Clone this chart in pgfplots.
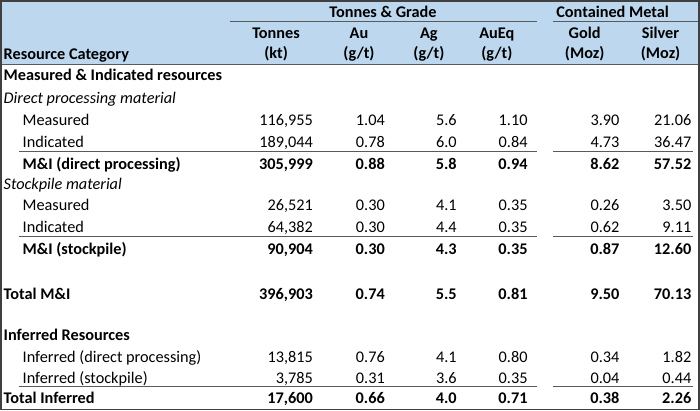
\documentclass[border=0pt]{standalone}
\usepackage{pgfplots}
\pgfplotsset{compat=1.18}
\usepackage{pgfplotstable}
\usepackage{fontspec}
\setmainfont{Carlito}
\definecolor{hdr}{RGB}{189,215,238}
\definecolor{bord}{RGB}{64,64,64}
\definecolor{rule}{RGB}{90,90,90}
\newcommand{\tf}{\fontsize{16.3}{18}\selectfont}

\pgfplotstableread{
y tonnes au ag aueq gold silver
125.5 116,955 1.04 5.6 1.10 3.90 21.06
148 189,044 0.78 6.0 0.84 4.73 36.47
211 26,521 0.30 4.1 0.35 0.26 3.50
233 64,382 0.30 4.4 0.35 0.62 9.11
363 13,815 0.76 4.1 0.80 0.34 1.82
384.5 3,785 0.31 3.6 0.35 0.04 0.44
}\rowsdata

\pgfplotstableread{
y tonnes au ag aueq gold silver
169.5 305,999 0.88 5.8 0.94 8.62 57.52
254.5 90,904 0.30 4.3 0.35 0.87 12.60
299.5 396,903 0.74 5.5 0.81 9.50 70.13
404.5 17,600 0.66 4.0 0.71 0.38 2.26
}\totalsdata

\tikzset{
  hc/.style={anchor=base,inner sep=0pt,font=\tf\bfseries},
  lb/.style={anchor=base west,inner sep=0pt,font=\tf},
  lbb/.style={anchor=base west,inner sep=0pt,font=\tf\bfseries},
  lbi/.style={anchor=base west,inner sep=0pt,font=\tf\itshape},
  rl/.style={rule,line width=1pt},
}

\begin{document}
\begin{tikzpicture}
\begin{axis}[width=700pt,height=411pt,scale only axis,
  xmin=0,xmax=700,ymin=0,ymax=411,y dir=reverse,hide axis,clip=false,
  point meta=explicit symbolic,
  nodes near coords,
  every node near coord/.append style={anchor=base east,inner sep=0pt,font=\tf,text=black},
]
% background and header
\fill[white] (axis cs:0,0) rectangle (axis cs:700,411);
\fill[hdr] (axis cs:0,0) rectangle (axis cs:700,65);
\draw[rule,line width=1pt] (axis cs:0,65) -- (axis cs:700,65);
\draw[rule,line width=0.8pt] (axis cs:230,21) -- (axis cs:537,21);
\draw[rule,line width=0.8pt] (axis cs:553,21) -- (axis cs:700,21);

% header text
\node[hc] at (axis cs:383,17.5) {Tonnes \& Grade};
\node[hc] at (axis cs:613,17.5) {Contained Metal};
\node[lbb] at (axis cs:3,59.5) {Resource Category};
\node[hc] at (axis cs:276,39) {Tonnes};
\node[hc] at (axis cs:276,59) {(kt)};
\node[hc] at (axis cs:359,39) {Au};
\node[hc] at (axis cs:359,59) {(g/t)};
\node[hc] at (axis cs:429,39) {Ag};
\node[hc] at (axis cs:429,59) {(g/t)};
\node[hc] at (axis cs:497,39) {AuEq};
\node[hc] at (axis cs:497,59) {(g/t)};
\node[hc] at (axis cs:585,39) {Gold};
\node[hc] at (axis cs:585,59) {(Moz)};
\node[hc] at (axis cs:661,39) {Silver};
\node[hc] at (axis cs:661,59) {(Moz)};

% row labels
\node[lbb] at (axis cs:3,81) {Measured \& Indicated resources};
\node[lbi] at (axis cs:3,104) {Direct processing material};
\node[lb] at (axis cs:22,125.5) {Measured};
\node[lb] at (axis cs:22,148) {Indicated};
\node[lbb] at (axis cs:22,169.5) {M\&I (direct processing)};
\node[lbi] at (axis cs:3,189.5) {Stockpile material};
\node[lb] at (axis cs:22,211) {Measured};
\node[lb] at (axis cs:22,233) {Indicated};
\node[lbb] at (axis cs:22,254.5) {M\&I (stockpile)};
\node[lbb] at (axis cs:3,299.5) {Total M\&I};
\node[lbb] at (axis cs:3,341) {Inferred Resources};
\node[lb] at (axis cs:22,363) {Inferred (direct processing)};
\node[lb] at (axis cs:22,384.5) {Inferred (stockpile)};
\node[lbb] at (axis cs:3,404.5) {Total Inferred};

% subtotal rules
\draw[rl] (axis cs:19,152) -- (axis cs:537,152);
\draw[rl] (axis cs:553,152) -- (axis cs:693,152);
\draw[rl] (axis cs:19,237) -- (axis cs:537,237);
\draw[rl] (axis cs:553,237) -- (axis cs:693,237);
\draw[rl] (axis cs:19,387) -- (axis cs:537,387);
\draw[rl] (axis cs:553,387) -- (axis cs:693,387);

% data: normal rows
\addplot[draw=none,mark=none] table[x expr=313,y=y,meta=tonnes] {\rowsdata};
\addplot[draw=none,mark=none] table[x expr=385,y=y,meta=au] {\rowsdata};
\addplot[draw=none,mark=none] table[x expr=457,y=y,meta=ag] {\rowsdata};
\addplot[draw=none,mark=none] table[x expr=528,y=y,meta=aueq] {\rowsdata};
\addplot[draw=none,mark=none] table[x expr=620,y=y,meta=gold] {\rowsdata};
\addplot[draw=none,mark=none] table[x expr=692,y=y,meta=silver] {\rowsdata};
% data: bold total rows
\addplot[draw=none,mark=none,every node near coord/.append style={font=\tf\bfseries}] table[x expr=313,y=y,meta=tonnes] {\totalsdata};
\addplot[draw=none,mark=none,every node near coord/.append style={font=\tf\bfseries}] table[x expr=385,y=y,meta=au] {\totalsdata};
\addplot[draw=none,mark=none,every node near coord/.append style={font=\tf\bfseries}] table[x expr=457,y=y,meta=ag] {\totalsdata};
\addplot[draw=none,mark=none,every node near coord/.append style={font=\tf\bfseries}] table[x expr=528,y=y,meta=aueq] {\totalsdata};
\addplot[draw=none,mark=none,every node near coord/.append style={font=\tf\bfseries}] table[x expr=620,y=y,meta=gold] {\totalsdata};
\addplot[draw=none,mark=none,every node near coord/.append style={font=\tf\bfseries}] table[x expr=692,y=y,meta=silver] {\totalsdata};

% border
\draw[bord,line width=1.6pt] (axis cs:0.8,0.8) rectangle (axis cs:699.2,410.2);
\end{axis}
\end{tikzpicture}
\end{document}
